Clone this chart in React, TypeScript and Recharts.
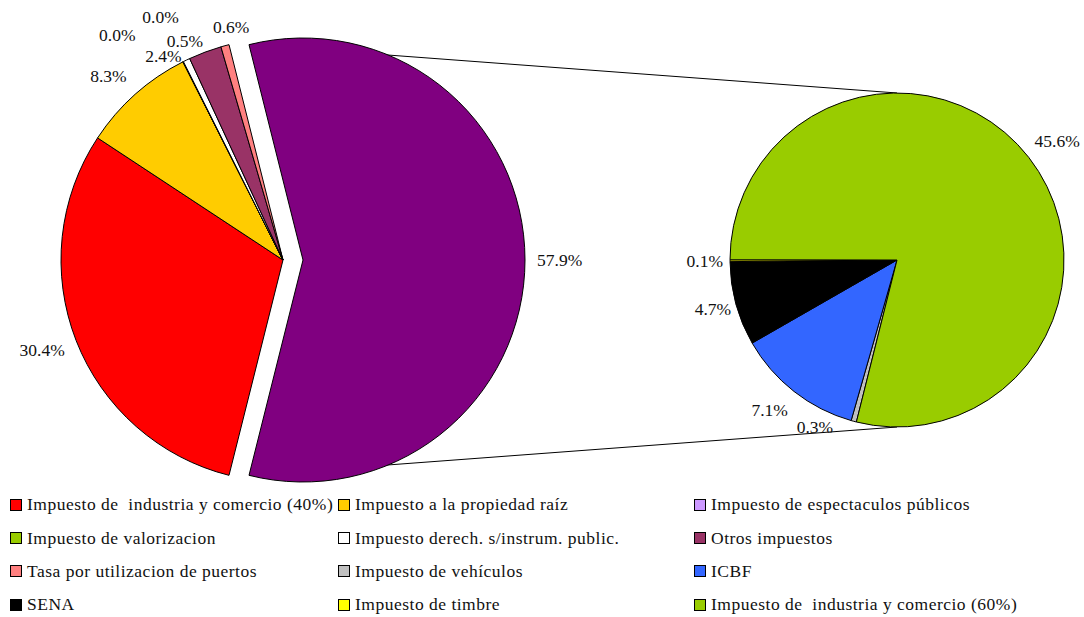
import React from 'react';
import { PieChart, Pie, Cell, Legend, Customized } from 'recharts';

// main pie (first pie), last item is the "other" slice split into the second pie
const mainNames = [
  'Impuesto de  industria y comercio (40%)',
  'Impuesto a la propiedad raíz',
  'Impuesto de espectaculos públicos',
  'Impuesto de valorizacion',
  'Impuesto derech. s/instrum. public.',
  'Otros impuestos',
  'Tasa por utilizacion de puertos',
  'Otros',
];
const mainValues = [30.4, 8.3, 0.02, 0.02, 0.5, 2.4, 0.6, 57.9];
const mainColors = ['#FF0000', '#FFCC00', '#CC99FF', '#99CC00', '#FFFFFF', '#993366', '#FF8080', '#800080'];

// second pie
const subNames = [
  'Impuesto de vehículos',
  'ICBF',
  'SENA',
  'Impuesto de timbre',
  'Impuesto de  industria y comercio (60%)',
];
const subValues = [0.3, 7.1, 4.7, 0.1, 45.6];
const subColors = ['#C0C0C0', '#3366FF', '#000000', '#FFFF00', '#99CC00'];

// label nudges (px) so overlapping labels land like the original
const mainNudge = [[-2, 6], [-2, -11], [-43, -18], [0, -36], [21, -10], [-20, 13], [27, -9], [2, 0]];
const subNudge = [[-18, -4], [0, 11], [5, 3], [3, 0], [-2, -10]];

const W = 1084;
const H = 617;
const CX1 = 283;
const CY = 260;
const R1 = 222;
const EXPLODE = 20;
const CX2 = 897;
const R2 = 167;
const RAD = Math.PI / 180;
const FONT = "'Liberation Serif', 'Times New Roman', Times, serif";

const mainData = mainNames.map((name, i) => ({ name, value: mainValues[i] }));
const subData = subNames.map((name, i) => ({ name, value: subValues[i] }));

const otherIdx = mainValues.length - 1;
const total = mainValues.reduce((a, b) => a + b, 0);
// half the "other" slice sits above 3 o'clock, half below
const otherHalf = (180 * mainValues[otherIdx]) / total;
const START = 360 - otherHalf;

const legendNames = [...mainNames.slice(0, otherIdx), ...subNames];
const legendColors = [...mainColors.slice(0, otherIdx), ...subColors];

const makeLabel = (nudges: number[][], show: (i: number) => boolean) => (p: any) => {
  const { cx, cy, midAngle, outerRadius, index, value } = p;
  if (!show(index)) return <g />;
  const r = outerRadius + 10;
  const c = Math.cos(midAngle * RAD);
  const x = cx + r * c + nudges[index][0];
  const y = cy - r * Math.sin(midAngle * RAD) + nudges[index][1];
  return (
    <text
      x={x}
      y={y}
      textAnchor={c >= 0 ? 'start' : 'end'}
      dominantBaseline="central"
      fill="#111"
      style={{ fontFamily: FONT, fontSize: 17.5 }}
    >
      {`${Number(value).toFixed(1)}%`}
    </text>
  );
};

const Connectors = () => {
  const a = otherHalf * RAD;
  const x1 = CX1 + EXPLODE + R1 * Math.cos(a);
  const yTop = CY - R1 * Math.sin(a);
  const yBot = CY + R1 * Math.sin(a);
  return (
    <g>
      <line x1={x1} y1={yTop} x2={CX2} y2={CY - R2} stroke="#000" strokeWidth={1} />
      <line x1={x1} y1={yBot} x2={CX2} y2={CY + R2} stroke="#000" strokeWidth={1} />
    </g>
  );
};

const LegendBox = () => (
  <div
    style={{
      display: 'grid',
      gridTemplateColumns: '328px 356px 1fr',
      gridAutoRows: '33.4px',
      paddingLeft: 10,
      fontFamily: FONT,
      fontSize: 17.5,
      letterSpacing: 0.5,
      color: '#111',
    }}
  >
    {legendNames.map((n, i) => (
      <div key={n + i} style={{ display: 'flex', alignItems: 'center', whiteSpace: 'pre' }}>
        <span
          style={{
            display: 'inline-block',
            flex: 'none',
            width: 10,
            height: 10,
            background: legendColors[i],
            border: '1px solid #000',
            marginRight: 5,
          }}
        />
        {n}
      </div>
    ))}
  </div>
);

export default function App() {
  return (
    <div style={{ position: 'absolute', left: 0, top: 0, background: '#fff', fontFamily: FONT }}>
      <PieChart width={W} height={H} margin={{ top: 0, right: 0, bottom: 0, left: 0 }}>
        <Customized component={Connectors} />
        <Pie
          data={mainData}
          dataKey="value"
          cx={CX1}
          cy={CY}
          outerRadius={R1}
          startAngle={START}
          endAngle={START - 360}
          isAnimationActive={false}
          labelLine={false}
          label={makeLabel(mainNudge, (i) => i !== otherIdx)}
        >
          {mainData.map((d, i) => (
            <Cell
              key={d.name}
              fill={i === otherIdx ? 'none' : mainColors[i]}
              stroke={i === otherIdx ? 'none' : '#000'}
              strokeWidth={1}
            />
          ))}
        </Pie>
        <Pie
          data={mainData}
          dataKey="value"
          cx={CX1 + EXPLODE}
          cy={CY}
          outerRadius={R1}
          startAngle={START}
          endAngle={START - 360}
          isAnimationActive={false}
          labelLine={false}
          label={makeLabel(mainNudge, (i) => i === otherIdx)}
        >
          {mainData.map((d, i) => (
            <Cell
              key={d.name}
              fill={i === otherIdx ? mainColors[i] : 'none'}
              stroke={i === otherIdx ? '#000' : 'none'}
              strokeWidth={1}
            />
          ))}
        </Pie>
        <Pie
          data={subData}
          dataKey="value"
          cx={CX2}
          cy={CY}
          outerRadius={R2}
          startAngle={START}
          endAngle={START - 360}
          isAnimationActive={false}
          labelLine={false}
          label={makeLabel(subNudge, () => true)}
        >
          {subData.map((d, i) => (
            <Cell key={d.name} fill={subColors[i]} stroke="#000" strokeWidth={1} />
          ))}
        </Pie>
        <Legend
          content={<LegendBox />}
          wrapperStyle={{ position: 'absolute', left: 0, top: 488, width: W }}
        />
      </PieChart>
    </div>
  );
}
